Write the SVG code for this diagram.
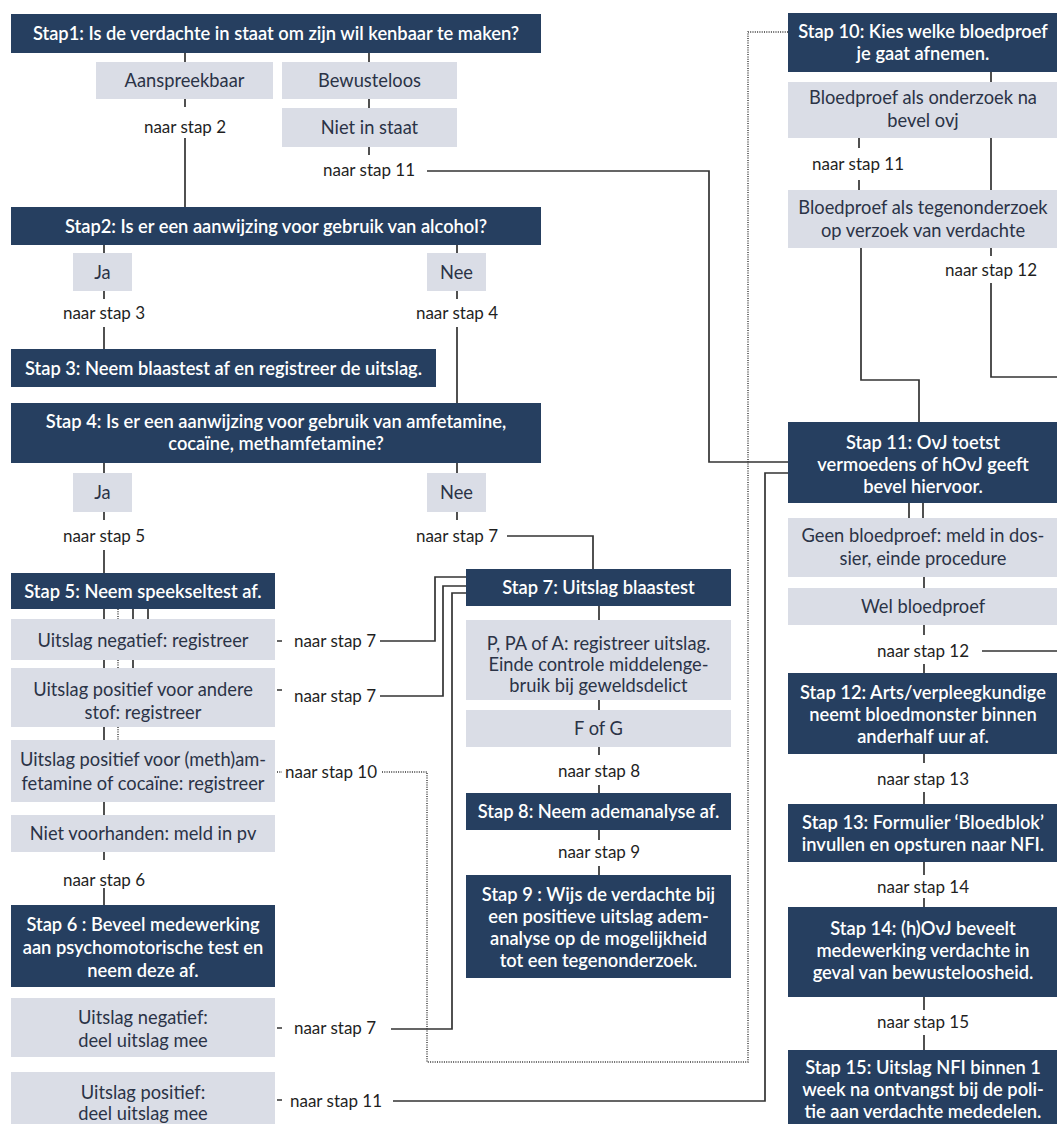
<svg xmlns="http://www.w3.org/2000/svg" width="1057" height="1124" viewBox="0 0 1057 1124">
<style>
text{font-family:Lato,"Open Sans","Liberation Sans",sans-serif;font-size:17px;text-anchor:middle}
.dk{fill:#263f60}
.lt{fill:#dadde6}
.tw{fill:#ffffff;font-weight:600;font-size:18.3px}
.tb{fill:#2b3346;font-size:18.3px}
.lb{fill:#1f1f1f}
.ln{stroke:#333333;stroke-width:1.7;fill:none}
.dt{stroke:#333333;stroke-width:1.4;stroke-dasharray:1 1.3;fill:none}
</style>
<rect width="1057" height="1124" fill="#ffffff"/>
<g id="connectors">
<path class="ln" d="M185,53V62M369,53V62M369,99V108M369,147V155M185,99V107M185,138V207"/>
<path class="ln" d="M427,171H709V462H788"/>
<path class="ln" d="M104,245V253M457,245V253M104,291V299M104,327V349M457,291V299M457,327V403"/>
<path class="ln" d="M104,463V473M457,463V473M104,512V520M104,550V573M457,512V520"/>
<path class="ln" d="M507,536H593V569"/>
<path class="ln" d="M104,609V619M133,609V619M148,609V619M104,660V668M133,660V668M104,727V740M104,802V815"/>
<path class="dt" d="M118,609V619M118,660V668M118,727V740"/>
<path class="ln" d="M277,641H282M277,690H282M277,1028H282M277,1100H282"/>
<path class="dt" d="M277,772H282"/>
<path class="ln" d="M380,641H435V577H467"/>
<path class="ln" d="M380,696H443V586H467"/>
<path class="dt" d="M382,772H427V1062H748V32H788"/>
<path class="ln" d="M104,852V860M104,888V905"/>
<path class="ln" d="M391,1029H452V593H467"/>
<path class="ln" d="M393,1101H765V473H788"/>
<path class="ln" d="M599,606V620M599,700V710M599,747V755M599,785V793M599,830V840M599,866V875"/>
<path class="ln" d="M991,72V82M859,138V148M859,180V190M991,138V190"/>
<path class="ln" d="M861,248V380H919V422"/>
<path class="ln" d="M991,248V256M991,283V377H1057"/>
<path class="ln" d="M909,503V518M923,503V518M924,577V588M924,625V635M924,664V673M982,651H1057"/>
<path class="ln" d="M924,754V763M924,792V804M924,862V875M924,898V907M924,997V1010M924,1035V1050"/>
</g>
<g id="stap1"><rect class="dk" x="11" y="14" width="530" height="39"/><text class="tw" x="276" y="40">Stap1: Is de verdachte in staat om zijn wil kenbaar te maken?</text></g>
<g id="aanspreekbaar"><rect class="lt" x="96" y="62" width="177" height="37"/><text class="tb" x="184.5" y="87">Aanspreekbaar</text></g>
<g id="bewusteloos"><rect class="lt" x="282" y="62" width="175" height="37"/><text class="tb" x="369.5" y="87">Bewusteloos</text></g>
<g id="nietinstaat"><rect class="lt" x="282" y="108" width="175" height="39"/><text class="tb" x="369.5" y="134">Niet in staat</text></g>
<g id="l-stap2"><text class="lb" x="185" y="133">naar stap 2</text></g>
<g id="l-stap11a"><text class="lb" x="369" y="176">naar stap 11</text></g>
<g id="stap2"><rect class="dk" x="11" y="207" width="530" height="38"/><text class="tw" x="276" y="233">Stap2: Is er een aanwijzing voor gebruik van alcohol?</text></g>
<g id="ja1"><rect class="lt" x="73" y="253" width="59" height="38"/><text class="tb" x="102.5" y="279">Ja</text></g>
<g id="nee1"><rect class="lt" x="427" y="253" width="59" height="38"/><text class="tb" x="456.5" y="279">Nee</text></g>
<g id="l-stap3"><text class="lb" x="104" y="319">naar stap 3</text></g>
<g id="l-stap4"><text class="lb" x="457" y="319">naar stap 4</text></g>
<g id="stap3"><rect class="dk" x="11" y="349" width="425" height="38"/><text class="tw" x="223.5" y="375">Stap 3: Neem blaastest af en registreer de uitslag.</text></g>
<g id="stap4"><rect class="dk" x="11" y="403" width="530" height="60"/><text class="tw" x="276" y="428">Stap 4: Is er een aanwijzing voor gebruik van amfetamine,</text><text class="tw" x="276" y="450">cocaïne, methamfetamine?</text></g>
<g id="ja2"><rect class="lt" x="73" y="473" width="59" height="39"/><text class="tb" x="102.5" y="499">Ja</text></g>
<g id="nee2"><rect class="lt" x="427" y="473" width="59" height="39"/><text class="tb" x="456.5" y="499">Nee</text></g>
<g id="l-stap5"><text class="lb" x="104" y="542">naar stap 5</text></g>
<g id="l-stap7a"><text class="lb" x="457" y="542">naar stap 7</text></g>
<g id="stap5"><rect class="dk" x="11" y="573" width="264" height="36"/><text class="tw" x="143" y="598">Stap 5: Neem speekseltest af.</text></g>
<g id="s5neg"><rect class="lt" x="11" y="619" width="264" height="41"/><text class="tb" x="143" y="647">Uitslag negatief: registreer</text></g>
<g id="s5pos"><rect class="lt" x="11" y="668" width="264" height="59"/><text class="tb" x="143" y="696">Uitslag positief voor andere</text><text class="tb" x="143" y="719">stof: registreer</text></g>
<g id="s5meth"><rect class="lt" x="11" y="740" width="264" height="62"/><text class="tb" x="143" y="766">Uitslag positief voor (meth)am-</text><text class="tb" x="143" y="790">fetamine of cocaïne: registreer</text></g>
<g id="s5niet"><rect class="lt" x="11" y="815" width="264" height="37"/><text class="tb" x="143" y="840">Niet voorhanden: meld in pv</text></g>
<g id="l-stap7b"><text class="lb" x="335" y="647">naar stap 7</text></g>
<g id="l-stap7c"><text class="lb" x="335" y="702">naar stap 7</text></g>
<g id="l-stap10"><text class="lb" x="331" y="778">naar stap 10</text></g>
<g id="l-stap6"><text class="lb" x="104" y="886">naar stap 6</text></g>
<g id="stap6"><rect class="dk" x="11" y="905" width="264" height="82"/><text class="tw" x="143" y="931">Stap 6 : Beveel medewerking</text><text class="tw" x="143" y="954">aan psychomotorische test en</text><text class="tw" x="143" y="977">neem deze af.</text></g>
<g id="s6neg"><rect class="lt" x="11" y="998" width="264" height="59"/><text class="tb" x="143" y="1024">Uitslag negatief:</text><text class="tb" x="143" y="1047">deel uitslag mee</text></g>
<g id="s6pos"><rect class="lt" x="11" y="1072" width="264" height="60"/><text class="tb" x="143" y="1099">Uitslag positief:</text><text class="tb" x="143" y="1120">deel uitslag mee</text></g>
<g id="l-stap7d"><text class="lb" x="335" y="1034">naar stap 7</text></g>
<g id="l-stap11b"><text class="lb" x="336" y="1107">naar stap 11</text></g>
<g id="stap7"><rect class="dk" x="466" y="569" width="265" height="37"/><text class="tw" x="598.5" y="594">Stap 7: Uitslag blaastest</text></g>
<g id="s7ppa"><rect class="lt" x="466" y="620" width="265" height="80"/><text class="tb" x="598.5" y="650">P, PA of A: registreer uitslag.</text><text class="tb" x="598.5" y="671">Einde controle middelenge-</text><text class="tb" x="598.5" y="692">bruik bij geweldsdelict</text></g>
<g id="s7fg"><rect class="lt" x="466" y="710" width="265" height="37"/><text class="tb" x="598.5" y="735">F of G</text></g>
<g id="l-stap8"><text class="lb" x="599" y="777">naar stap 8</text></g>
<g id="stap8"><rect class="dk" x="466" y="793" width="265" height="37"/><text class="tw" x="598.5" y="818">Stap 8: Neem ademanalyse af.</text></g>
<g id="l-stap9"><text class="lb" x="599" y="858">naar stap 9</text></g>
<g id="stap9"><rect class="dk" x="466" y="875" width="265" height="103"/><text class="tw" x="598.5" y="901">Stap 9 : Wijs de verdachte bij</text><text class="tw" x="598.5" y="923">een positieve uitslag adem-</text><text class="tw" x="598.5" y="945">analyse op de mogelijkheid</text><text class="tw" x="598.5" y="967">tot een tegenonderzoek.</text></g>
<g id="stap10"><rect class="dk" x="788" y="13" width="272" height="59"/><text class="tw" x="923" y="38">Stap 10: Kies welke bloedproef</text><text class="tw" x="923" y="60">je gaat afnemen.</text></g>
<g id="s10ond"><rect class="lt" x="788" y="82" width="272" height="56"/><text class="tb" x="923" y="104">Bloedproef als onderzoek na</text><text class="tb" x="923" y="127">bevel ovj</text></g>
<g id="l-stap11c"><text class="lb" x="858" y="170">naar stap 11</text></g>
<g id="s10teg"><rect class="lt" x="788" y="190" width="272" height="58"/><text class="tb" x="923" y="214">Bloedproef als tegenonderzoek</text><text class="tb" x="923" y="237">op verzoek van verdachte</text></g>
<g id="l-stap12a"><text class="lb" x="991" y="276">naar stap 12</text></g>
<g id="stap11"><rect class="dk" x="788" y="422" width="272" height="81"/><text class="tw" x="923" y="449">Stap 11: OvJ toetst</text><text class="tw" x="923" y="471">vermoedens of hOvJ geeft</text><text class="tw" x="923" y="493">bevel hiervoor.</text></g>
<g id="s11geen"><rect class="lt" x="788" y="518" width="272" height="59"/><text class="tb" x="923" y="542">Geen bloedproef: meld in dos-</text><text class="tb" x="923" y="565">sier, einde procedure</text></g>
<g id="s11wel"><rect class="lt" x="788" y="588" width="272" height="37"/><text class="tb" x="923" y="613">Wel bloedproef</text></g>
<g id="l-stap12b"><text class="lb" x="923" y="657">naar stap 12</text></g>
<g id="stap12"><rect class="dk" x="788" y="673" width="272" height="81"/><text class="tw" x="923" y="699">Stap 12: Arts/verpleegkundige</text><text class="tw" x="923" y="721">neemt bloedmonster binnen</text><text class="tw" x="923" y="743">anderhalf uur af.</text></g>
<g id="l-stap13"><text class="lb" x="923" y="785">naar stap 13</text></g>
<g id="stap13"><rect class="dk" x="788" y="804" width="272" height="58"/><text class="tw" x="923" y="829">Stap 13: Formulier ‘Bloedblok’</text><text class="tw" x="923" y="851">invullen en opsturen naar NFI.</text></g>
<g id="l-stap14"><text class="lb" x="923" y="893">naar stap 14</text></g>
<g id="stap14"><rect class="dk" x="788" y="907" width="272" height="90"/><text class="tw" x="923" y="935">Stap 14: (h)OvJ beveelt</text><text class="tw" x="923" y="957">medewerking verdachte in</text><text class="tw" x="923" y="979">geval van bewusteloosheid.</text></g>
<g id="l-stap15"><text class="lb" x="923" y="1028">naar stap 15</text></g>
<g id="stap15"><rect class="dk" x="788" y="1050" width="272" height="80"/><text class="tw" x="923" y="1074">Stap 15: Uitslag NFI binnen 1</text><text class="tw" x="923" y="1096">week na ontvangst bij de poli-</text><text class="tw" x="923" y="1118">tie aan verdachte mededelen.</text></g>
</svg>
